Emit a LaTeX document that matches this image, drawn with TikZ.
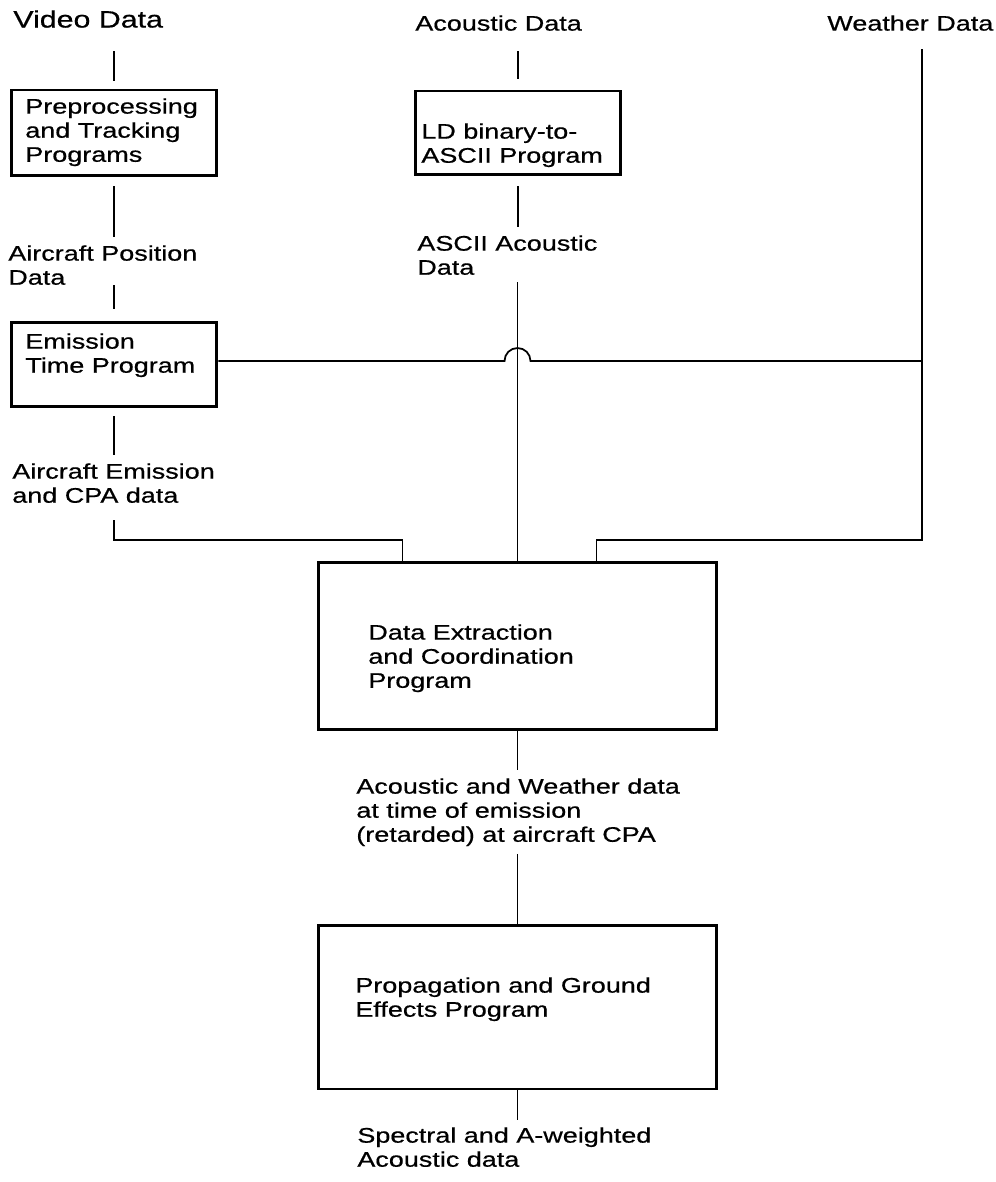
\documentclass[tikz,border=0pt]{standalone}
\usepackage{fontspec}
\setmainfont{Liberation Sans}[FakeStretch=1.28,FakeBold=0.6]
\begin{document}
\begin{tikzpicture}[x=0.02cm,y=-0.02cm,
	box/.style={draw,line width=1.7pt,inner sep=0pt},
	txt/.style={inner sep=0pt,anchor=north west,align=left,font=\fontsize{12}{13.7}\selectfont},
	link/.style={line width=1pt}]
		%data reduction programs
		\useasboundingbox (0,0) rectangle (996,1182);
		\node[txt,font=\fontsize{13.5}{15}\selectfont] (video) at (13,10) {Video Data};
		\node[txt] (acou) at (415,15) {Acoustic Data};
		\node[txt] (weather) at (827,15) {Weather Data};
		\node[box,minimum width=4.12cm,minimum height=1.72cm] (prep) at (114,133) {};
		\node[box,minimum width=4.12cm,minimum height=1.68cm] (ld) at (518,133) {};
		\node[box,minimum width=4.12cm,minimum height=1.7cm] (emis) at (114,364.5) {};
		\node[box,minimum width=7.98cm,minimum height=3.36cm] (de) at (517.5,646) {};
		\node[box,minimum width=7.98cm,minimum height=3.28cm] (pg) at (517.5,1007) {};
		\node[txt] (preptxt) at (25,98) {Preprocessing\\and Tracking\\Programs};
		\node[txt] (pos) at (8,245) {Aircraft Position\\Data};
		\node[txt] (emistxt) at (25,333) {Emission\\Time Program};
		\node[txt] (emd) at (12,463) {Aircraft Emission\\and CPA data};
		\node[txt] (ldtxt) at (421,123) {LD binary-to-\\ASCII Program};
		\node[txt] (ascii) at (417,235) {ASCII Acoustic\\Data};
		\node[txt] (detxt) at (368,624) {Data Extraction\\and Coordination\\Program};
		\node[txt] (aw) at (356,778) {Acoustic and Weather data\\at time of emission\\(retarded) at aircraft CPA};
		\node[txt] (pgtxt) at (355,977) {Propagation and Ground\\Effects Program};
		\node[txt] (spec) at (357,1127) {Spectral and A-weighted\\Acoustic data};
		\coordinate (wcorner) at (922,540);
		\coordinate (bus) at ([yshift=0.07cm]emis.east);
		\coordinate (detapl) at ([xshift=1.72cm]de.north west);
		\coordinate (detapr) at ([xshift=-2.44cm]de.north east);
		\path (bus -| de.north) coordinate (hop);
		\draw[link,shorten <=0.46cm,shorten >=0.16cm] (prep.north |- video.south) -- (prep.north);
		\draw[link,shorten <=0.18cm,shorten >=0.16cm] (prep.south) -- (prep.south |- pos.north);
		\draw[link,shorten >=0.24cm] (emis.north |- pos.south) -- (emis.north);
		\draw[link,shorten <=0.16cm,shorten >=0.16cm] (emis.south) -- (emis.south |- emd.north);
		\draw[link,shorten <=0.34cm] (emis.south |- emd.south) |- (detapl |- wcorner) -- (detapl);
		\draw[link,shorten <=0.36cm] (wcorner |- weather.south) -- (wcorner) -| (detapr);
		\draw[link] (bus) -- ([xshift=-0.26cm]hop) arc[start angle=180,end angle=0,radius=0.26cm] -- (bus -| wcorner);
		\draw[link,shorten <=0.4cm,shorten >=0.22cm] (ld.north |- acou.south) -- (ld.north);
		\draw[link,shorten <=0.2cm,shorten >=0.16cm] (ld.south) -- (ld.south |- ascii.north);
		\draw[link,shorten <=0.14cm] (de.north |- ascii.south) -- (de.north);
		\draw[link,shorten >=0.16cm] (de.south) -- (de.south |- aw.north);
		\draw[link,shorten <=0.15cm] (pg.north |- aw.south) -- (pg.north);
		\draw[link,shorten >=0.14cm] (pg.south) -- (pg.south |- spec.north);
\end{tikzpicture}
\end{document}
